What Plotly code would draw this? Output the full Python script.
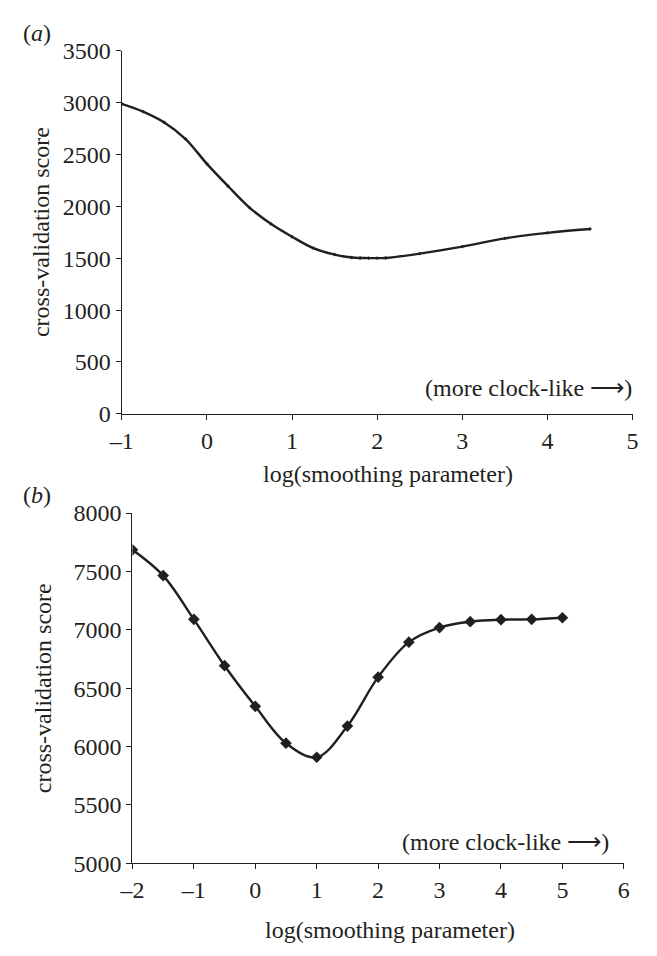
import plotly.graph_objects as go

# Panel (a)
a_x = [-1, -0.75, -0.5, -0.25, 0, 0.25, 0.5, 0.75, 1, 1.25, 1.5, 1.7, 1.8, 1.9, 2.0, 2.1, 2.5, 3, 3.5, 4, 4.5]
a_y = [2990, 2915, 2810, 2650, 2411, 2195, 1989, 1833, 1708, 1598, 1536, 1508, 1503, 1502, 1502, 1503,
       1545, 1612, 1692, 1745, 1782]
a_xticks = [-1, 0, 1, 2, 3, 4, 5]
a_xticktext = ["–1", "0", "1", "2", "3", "4", "5"]
a_yticks = [0, 500, 1000, 1500, 2000, 2500, 3000, 3500]

# Panel (b)
b_x = [-2, -1.5, -1, -0.5, 0, 0.5, 1, 1.5, 2, 2.5, 3, 3.5, 4, 4.5, 5]
b_y = [7685, 7464, 7089, 6692, 6344, 6028, 5908, 6175, 6594, 6894, 7019, 7069, 7086, 7089, 7103]
b_xticks = [-2, -1, 0, 1, 2, 3, 4, 5, 6]
b_xticktext = ["–2", "–1", "0", "1", "2", "3", "4", "5", "6"]
b_yticks = [5000, 5500, 6000, 6500, 7000, 7500, 8000]

FONT = "Liberation Serif"
FS = 24
INK = "#231f20"

fig = go.Figure()
fig.add_trace(go.Scatter(x=a_x, y=a_y, mode="lines+markers", line=dict(color=INK, width=2.4, shape="spline"),
                         marker=dict(symbol="diamond", size=3, color=INK), xaxis="x", yaxis="y", showlegend=False))
fig.add_trace(go.Scatter(x=b_x, y=b_y, mode="lines+markers", line=dict(color=INK, width=2.4, shape="spline"),
                         marker=dict(symbol="diamond", size=9, color=INK), xaxis="x2", yaxis="y2", showlegend=False))

W, H = 657, 956
def px(v): return v / W
def py(v): return 1 - v / H

axis_common = dict(showline=True, linecolor=INK, linewidth=1.3, ticks="outside", ticklen=5, tickwidth=1.3,
                   tickcolor=INK, showgrid=False, zeroline=False,
                   tickfont=dict(family=FONT, size=FS, color=INK))

fig.update_layout(
    width=W, height=H, margin=dict(l=0, r=0, t=0, b=0),
    paper_bgcolor="white", plot_bgcolor="white",
    xaxis=dict(domain=[px(112), px(638)], range=[-1, 5], tickvals=a_xticks, ticktext=a_xticktext,
               anchor="y", **axis_common),
    yaxis=dict(domain=[py(412), py(39)], range=[0, 3500], tickvals=a_yticks, anchor="x", **axis_common),
    xaxis2=dict(domain=[px(123), px(629)], range=[-2, 6], tickvals=b_xticks, ticktext=b_xticktext,
                anchor="y2", **axis_common),
    yaxis2=dict(domain=[py(874), py(514)], range=[5000, 8000], tickvals=b_yticks, anchor="x2", **axis_common),
)

def ann(text, x, y, angle=0, xanchor="center", yanchor="middle"):
    fig.add_annotation(text=text, x=px(x), y=py(y), xref="paper", yref="paper", showarrow=False,
                       textangle=angle, xanchor=xanchor, yanchor=yanchor,
                       font=dict(family=FONT, size=FS, color=INK))

ann("(<i>a</i>)", 8, 21, xanchor="left")
ann("(<i>b</i>)", 8, 495, xanchor="left")
ann("cross-validation score", 29, 225, angle=-90)
ann("cross-validation score", 31, 694, angle=-90)
ann("log(smoothing parameter)", 386, 474)
ann("log(smoothing parameter)", 388, 943)
ann("(more clock-like ⟶)", 640, 385, xanchor="right")
ann("(more clock-like ⟶)", 616, 852, xanchor="right")

fig.write_html("out.html")
